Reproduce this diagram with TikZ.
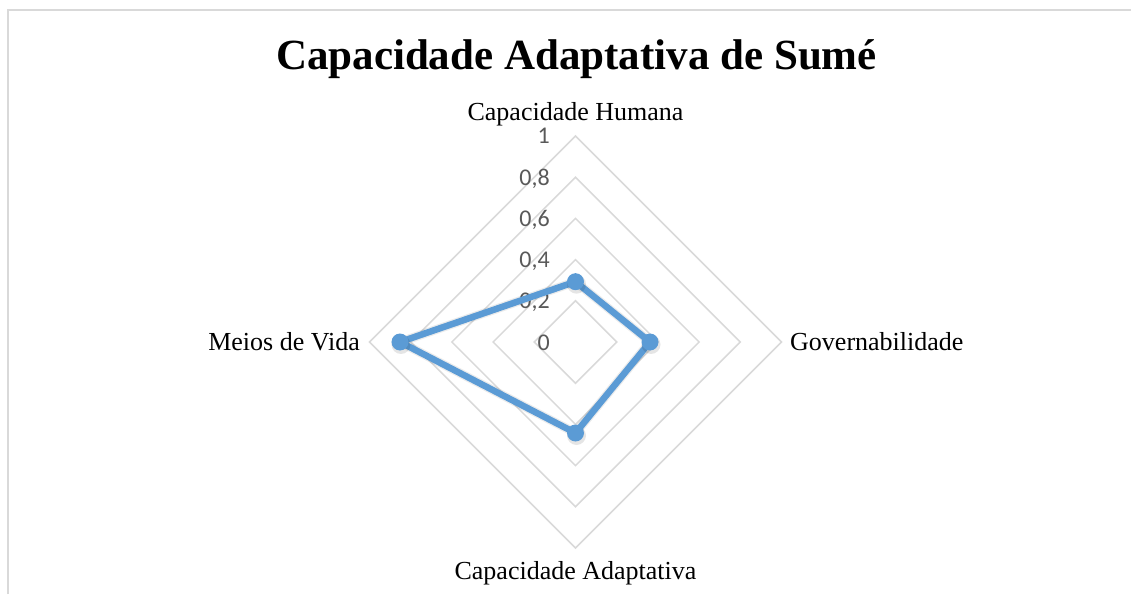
\documentclass[tikz,border=0pt]{standalone}
\usepackage{fontspec}
\setmainfont{Liberation Serif}
\newfontfamily\axisfont{Carlito}

\begin{document}
\begin{tikzpicture}[x=1pt,y=1pt,
    gridline/.style={draw=gridgray,line width=1.5pt},
    series/.style={draw=seriesblue,line width=6.5pt,line join=round},
    catlabel/.style={font=\fontsize{26}{26}\selectfont,inner sep=0pt},
    ticklabel/.style={font=\axisfont\fontsize{24}{24}\selectfont,text=ticktext,inner sep=0pt,anchor=base east}]

\definecolor{gridgray}{RGB}{217,217,217}
\definecolor{seriesblue}{RGB}{91,155,213}
\definecolor{ticktext}{RGB}{89,89,89}

\useasboundingbox (-575.5,-252) rectangle (555.5,342);

% chart frame
\draw[gridgray,line width=2pt] (-567.5,-252)--(-567.5,332)--(555.5,332);

\node[anchor=base,inner sep=0pt,font=\bfseries\fontsize{43}{43}\selectfont] (title) at (1,272) {Capacidade Adaptativa de Sumé};

% rings
\foreach \k in {1,...,5}
	{
		\draw[gridline] (0,41.2*\k)--(41.2*\k,0)--(0,-41.2*\k)--(-41.2*\k,0)--cycle;
	}

\foreach \k/\t in {0/0,1/{0,2},2/{0,4},3/{0,6},4/{0,8},5/1}
	\node[ticklabel] (tick\k) at (-25.5,-8+41.2*\k) {\t};

\node[catlabel,anchor=base] (humana) at (0,221.3) {Capacidade Humana};
\node[catlabel,anchor=base west] (gov) at (214.5,-8) {Governabilidade};
\node[catlabel,anchor=base] (adapt) at (0,-237) {Capacidade Adaptativa};
\node[catlabel,anchor=base east] (vida) at (-215.5,-8) {Meios de Vida};

% data
\coordinate (pH) at (0,60.3);
\coordinate (pG) at (74.5,0);
\coordinate (pA) at (0,-91);
\coordinate (pV) at (-175.5,0);

\draw[black,opacity=0.08,line width=9pt,line join=round,shift={(1,-2.5)}] (pH)--(pG)--(pA)--(pV)--cycle;
\draw[series] (pH)--(pG)--(pA)--(pV)--cycle;
\foreach \p in {pH,pG,pA,pV}
	{
		\fill[black,opacity=0.1] ([shift={(1,-2.5)}]\p) circle (9.5);
		\fill[seriesblue] (\p) circle (8.5);
	}
\end{tikzpicture}
\end{document}
